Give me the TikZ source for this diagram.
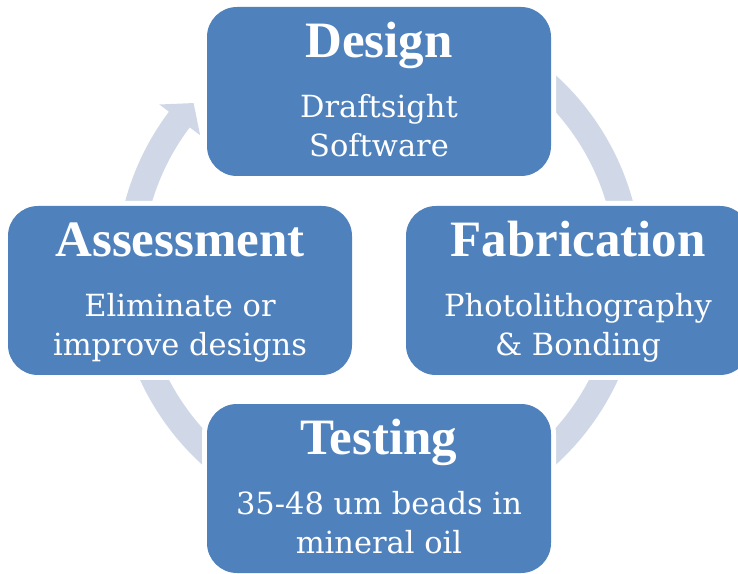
\documentclass[tikz,border=0pt]{standalone}
\usepackage{fontspec}
\setmainfont{Liberation Serif}
\newfontfamily\subfont{DejaVu Serif}
\usetikzlibrary{calc}
\definecolor{boxblue}{HTML}{4F81BD}
\definecolor{arcgray}{HTML}{D0D8E8}
\tikzset{
  box/.style={rectangle, rounded corners=30pt, fill=boxblue, minimum width=344pt, minimum height=169pt, inner sep=0pt,
    preaction={draw=white, line width=10pt}},
  ttl/.style={anchor=base, text=white, inner sep=0pt, font=\fontsize{51}{60}\selectfont\bfseries},
  sub/.style={anchor=base, text=white, inner sep=0pt, align=center, font=\subfont\fontsize{30.5}{39}\selectfont},
  band/.style={fill=arcgray}
}
\newcommand{\cyclearrow}[3]{% start angle, base angle, tip angle
  \fill[band] (#1:237) arc[start angle=#1, end angle=#2, radius=237] -- (#2:224) -- (#3:249.5) -- (#2:275) -- (#2:263)
    arc[start angle=#2, end angle=#1, radius=263] -- cycle;}
\begin{document}
\begin{tikzpicture}[x=1pt,y=1pt]
\useasboundingbox (0,0) rectangle (738,573);
\clip (0,0) rectangle (738,573);
\fill[white] (0,0) rectangle (738,573);
% cycle arrows
\begin{scope}[shift={(379,303)}]
  \cyclearrow{75}{5}{0}
  \cyclearrow{-15}{-75}{-70}
  \cyclearrow{-105}{-170}{-175}
  \cyclearrow{175}{143}{138}
\end{scope}
% boxes
\node[box] (d) at (379,481.5) {};
\node[box] (a) at (180,282.5) {};
\node[box] (f) at (578,282.5) {};
\node[box] (t) at (379,84.5) {};
% texts
\node[ttl] (dT) at ([yshift=-50.5pt]d.north) {Design};
\node[sub] (dS) at ([yshift=-150pt]d.north) {Draftsight\\Software};
\node[ttl] (aT) at ([yshift=-50.5pt]a.north) {Assessment};
\node[sub] (aS) at ([yshift=-150pt]a.north) {Eliminate or\\improve designs};
\node[ttl] (fT) at ([yshift=-50.5pt]f.north) {Fabrication};
\node[sub] (fS) at ([yshift=-150pt]f.north) {Photolithography\\\& Bonding};
\node[ttl] (tT) at ([yshift=-50.5pt]t.north) {Testing};
\node[sub] (tS) at ([yshift=-150pt]t.north) {35-48 um beads in\\mineral oil};
\end{tikzpicture}
\end{document}
